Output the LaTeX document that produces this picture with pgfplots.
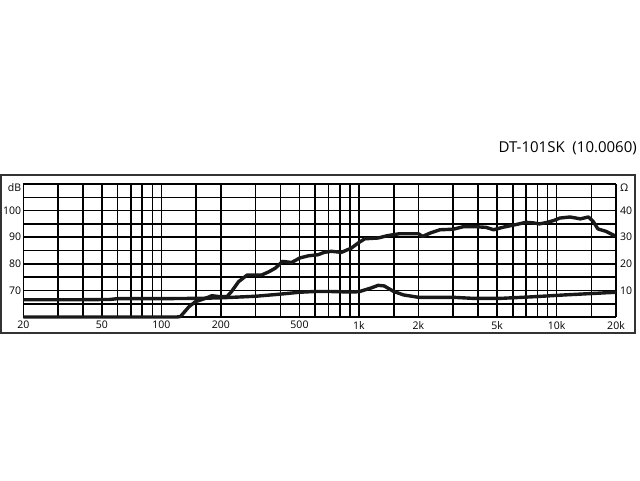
\documentclass[border=0pt]{standalone}
\usepackage{fontspec}
\setmainfont{Open Sans}
\usepackage{pgfplots}
\pgfplotsset{compat=1.18}

\begin{document}
\begin{tikzpicture}[x=1pt,y=1pt]
\useasboundingbox (0,0) rectangle (640,480);
\draw[line width=1.3pt, black!80] (1,147) rectangle (635,305);
\node[anchor=east, inner sep=0pt, font=\fontsize{15}{17}\selectfont] at (637,332) {DT-101SK\ \ (10.0060)};

\begin{axis}[
  scale only axis, width=592.7pt, height=133pt,
  at={(23.3pt,163pt)}, anchor=south west,
  xmode=log, xmin=20, xmax=20000,
  ymin=60, ymax=110,
  axis line style={line width=1.6pt, black},
  major tick length=0pt,
  tick label style={font=\fontsize{10.5}{11}\selectfont},
  /pgf/number format/assume math mode=true,
  xtick={20,30,40,50,60,70,80,90,100,150,200,300,400,500,600,700,800,900,1000,1500,2000,3000,4000,5000,6000,7000,8000,9000,10000,15000,20000},
  xticklabels={20,{},{},50,{},{},{},{},100,{},200,{},{},500,{},{},{},{},1k,{},2k,{},{},5k,{},{},{},{},10k,{},20k},
  ytick={60,65,...,110},
  yticklabels={{},{},70,{},80,{},90,{},100,{},{}},
  extra y ticks={108.6},
  extra y tick labels={dB},
  extra y tick style={grid=none},
  xmajorgrids=true, ymajorgrids=true,
  major grid style={line width=1.6pt, black},
  xticklabel style={inner sep=1pt, yshift=-3pt},
  yticklabel style={inner sep=1pt, xshift=-1pt},
  axis y line*=left,
  clip=false,
]
\addplot[line width=3.4pt, black!90, line join=round] coordinates {
  (20,60) (120,60) (125,60.2) (138,63.9) (149,65.8) (167,67) (180,68) (195,67.7)
  (215,67.7) (226,69.5) (246,73.3) (272,75.8) (298,75.8) (322,75.8) (350,77)
  (378,78.4) (410,80.9) (456,80.5) (502,82.2) (555,83) (620,83.4) (667,84.3)
  (725,84.7) (815,84.3) (915,85.9) (990,87.8) (1070,89.4) (1250,89.7) (1400,90.6)
  (1600,91.3) (1830,91.3) (2000,91.3) (2100,90.3) (2300,91.6) (2570,92.8) (3000,93)
  (3400,94) (3800,94) (4400,93.7) (4800,92.8) (5400,93.8) (6200,94.7) (7000,95.6)
  (7600,95.4) (8200,95) (9000,95.6) (9700,96.3) (10400,97.2) (11700,97.6)
  (13200,96.9) (14500,97.6) (15300,96) (16200,93.1) (17800,92.2) (20000,90.3)
};
\end{axis}

\begin{axis}[
  scale only axis, width=592.7pt, height=133pt,
  at={(23.3pt,163pt)}, anchor=south west,
  xmode=log, xmin=20, xmax=20000,
  ymin=0, ymax=50,
  axis line style={line width=1.6pt, black},
  major tick length=0pt,
  tick label style={font=\fontsize{10.5}{11}\selectfont},
  /pgf/number format/assume math mode=true,
  axis x line=none,
  axis y line*=right,
  ytick={10,20,30,40},
  extra y ticks={48.6},
  extra y tick labels={Ω},
  yticklabel style={inner sep=1pt, xshift=3pt},
  clip=false,
]
\addplot[line width=3.4pt, black!90, line join=round] coordinates {
  (20,6.5) (40,6.5) (55,6.6) (60,6.9) (100,6.9) (150,7) (200,7.2) (300,7.8)
  (400,8.6) (500,9.3) (600,9.6) (700,9.6) (900,9.4) (1000,9.5) (1150,10.9)
  (1250,11.9) (1340,11.7) (1500,9.6) (1680,8.3) (2000,7.4) (3000,7.4) (3800,7)
  (5200,7) (7600,7.6) (11000,8.3) (20000,9.3)
};
\end{axis}
\end{tikzpicture}
\end{document}
